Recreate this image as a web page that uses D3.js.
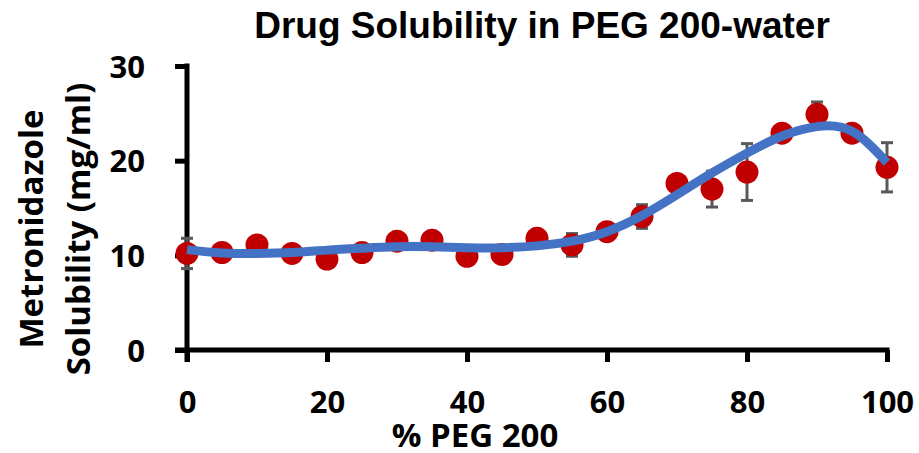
<!DOCTYPE html>
<html>
<head>
<meta charset="utf-8">
<script src="https://cdn.jsdelivr.net/npm/d3@7"></script>
<style>
  html, body { margin: 0; padding: 0; background: #fff; }
  svg { display: block; }
  .lbl { font-family: "Open Sans", "Noto Sans", sans-serif; font-weight: 700; fill: #000; }
  .title { font-family: "Liberation Sans", Arial, sans-serif; font-weight: 700; fill: #000; }
</style>
</head>
<body>
<svg id="chart" width="919" height="453"></svg>
<script>
// Measured solubility of metronidazole vs. PEG 200 content
const pegPercent = [0, 5, 10, 15, 20, 25, 30, 35, 40, 45, 50, 55, 60, 65, 70, 75, 80, 85, 90, 95, 100];
const solubility = [10.2, 10.3, 11.1, 10.2, 9.6, 10.3, 11.5, 11.6, 9.9, 10.1, 11.8, 11.1, 12.5, 14.1, 17.6, 17.0, 18.8, 22.9, 24.9, 22.9, 19.3];
const solubilitySD = [1.6, 0, 0, 0, 0, 0, 0, 0, 0, 0, 0, 1.2, 0, 1.25, 0, 1.9, 3.0, 0, 1.3, 0, 2.6];

// Smoothed trend through the data
const trendX = [0, 5, 10, 15, 20, 25, 30, 35, 40, 45, 50, 55, 60, 65, 70, 75, 80, 85, 90, 95, 100];
const trendY = [10.6, 10.25, 10.2, 10.3, 10.55, 10.75, 10.9, 10.9, 10.8, 10.8, 11.0, 11.5, 12.5, 14.2, 16.4, 18.7, 20.8, 22.6, 23.6, 23.1, 19.8];

const xTicks = [0, 20, 40, 60, 80, 100];
const yTicks = [0, 10, 20, 30];

const svg = d3.select("#chart");

const x = d3.scaleLinear().domain([0, 100]).range([187, 887]);
const y = d3.scaleLinear().domain([0, 30]).range([350, 66]);

// Axes
const xAxis = d3.axisBottom(x).tickValues(xTicks).tickSize(12).tickPadding(29).tickFormat(d3.format("d"));
const yAxis = d3.axisLeft(y).tickValues(yTicks).tickSize(12).tickPadding(30).tickFormat(d3.format("d"));

const gx = svg.append("g").attr("transform", "translate(0,350)").call(xAxis);
const gy = svg.append("g").attr("transform", "translate(187,0)").call(yAxis);

[gx, gy].forEach(g => {
  g.select(".domain").remove();
  g.selectAll(".tick line").attr("stroke", "#000").attr("stroke-width", 5);
  g.selectAll(".tick text").attr("class", "lbl").attr("font-size", 31).attr("fill", "#000");
});
gy.selectAll(".tick text").attr("dy", "0.36em");

// Axis lines
svg.append("line")
  .attr("x1", x(0) - 12).attr("x2", x(100) + 2.5)
  .attr("y1", y(0)).attr("y2", y(0))
  .attr("stroke", "#000").attr("stroke-width", 5);
svg.append("line")
  .attr("x1", x(0)).attr("x2", x(0))
  .attr("y1", y(30) - 2.5).attr("y2", y(0) + 12)
  .attr("stroke", "#000").attr("stroke-width", 5);

// Error bars
const errG = svg.append("g").attr("stroke", "#595959").attr("stroke-width", 3);
pegPercent.forEach((p, i) => {
  const sd = solubilitySD[i];
  if (!sd) return;
  const cx = x(p), top = y(solubility[i] + sd), bot = y(solubility[i] - sd);
  errG.append("line").attr("x1", cx).attr("x2", cx).attr("y1", top).attr("y2", bot);
  errG.append("line").attr("x1", cx - 6).attr("x2", cx + 6).attr("y1", top).attr("y2", top);
  errG.append("line").attr("x1", cx - 6).attr("x2", cx + 6).attr("y1", bot).attr("y2", bot);
});

// Data markers
svg.append("g").selectAll("circle")
  .data(pegPercent)
  .join("circle")
  .attr("cx", d => x(d))
  .attr("cy", (d, i) => y(solubility[i]))
  .attr("r", 11.5)
  .attr("fill", "#C00000");

// Trend line
const line = d3.line()
  .x((d, i) => x(trendX[i]))
  .y(d => y(d))
  .curve(d3.curveNatural);
svg.append("path")
  .attr("d", line(trendY))
  .attr("fill", "none")
  .attr("stroke", "#4472C4")
  .attr("stroke-width", 9)
  .attr("stroke-linecap", "butt");

// Title
svg.append("text").attr("class", "title")
  .attr("x", 542).attr("y", 38)
  .attr("text-anchor", "middle")
  .attr("font-size", 37)
  .text("Drug Solubility in PEG 200-water");

// Axis titles
svg.append("text").attr("class", "lbl")
  .attr("x", 475).attr("y", 447)
  .attr("text-anchor", "middle")
  .attr("font-size", 33)
  .text("% PEG 200");

const yTitle = svg.append("text").attr("class", "lbl")
  .attr("transform", "translate(0,229) rotate(-90)")
  .attr("text-anchor", "middle")
  .attr("font-size", 33);
yTitle.append("tspan").attr("x", 0).attr("y", 43).text("Metronidazole");
yTitle.append("tspan").attr("x", 0).attr("y", 90).text("Solubility (mg/ml)");
</script>
</body>
</html>
